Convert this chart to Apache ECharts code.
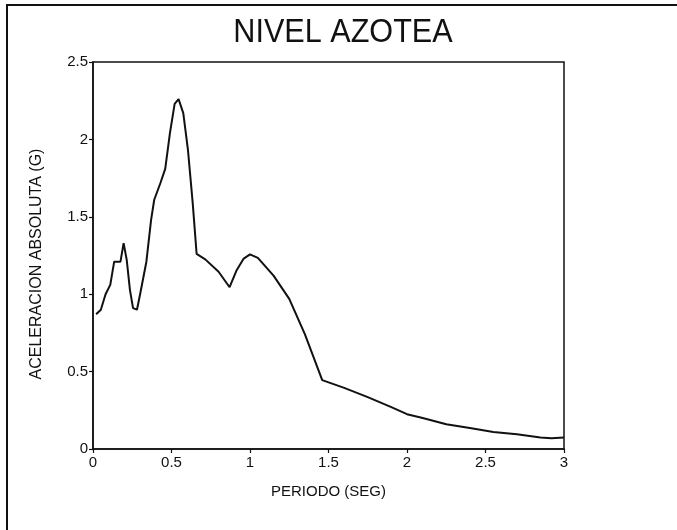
<!DOCTYPE html>
<html>
<head>
<meta charset="utf-8">
<script src="https://cdn.jsdelivr.net/npm/echarts@6/dist/echarts.min.js"></script>
<style>
  html, body { margin: 0; padding: 0; background: #fff; }
  #chart { width: 677px; height: 530px; }
</style>
</head>
<body>
<div id="chart"></div>
<script>
// Spectral response, roof level: period (s) vs absolute acceleration (g)
var periodo = [0.02, 0.05, 0.08, 0.11, 0.135, 0.175, 0.195, 0.215, 0.235, 0.255, 0.28, 0.30, 0.34, 0.37, 0.39, 0.43, 0.46, 0.49, 0.52, 0.545, 0.575, 0.605, 0.635, 0.66, 0.715, 0.80, 0.87, 0.915, 0.96, 1.00, 1.05, 1.15, 1.25, 1.35, 1.46, 1.60, 1.75, 1.90, 2.00, 2.10, 2.25, 2.40, 2.55, 2.70, 2.85, 2.92, 3.00];
var aceleracion = [0.87, 0.90, 1.00, 1.06, 1.21, 1.21, 1.33, 1.22, 1.03, 0.91, 0.90, 1.00, 1.21, 1.48, 1.61, 1.72, 1.81, 2.04, 2.23, 2.26, 2.17, 1.93, 1.59, 1.26, 1.225, 1.145, 1.045, 1.155, 1.23, 1.257, 1.235, 1.12, 0.97, 0.74, 0.445, 0.395, 0.335, 0.27, 0.225, 0.20, 0.16, 0.135, 0.11, 0.095, 0.075, 0.07, 0.075];
var xTicks = [0, 0.5, 1, 1.5, 2, 2.5, 3];
var yTicks = [0, 0.5, 1, 1.5, 2, 2.5];

var titulo = 'NIVEL AZOTEA';
var ejeX = 'PERIODO (SEG)';
var ejeY = 'ACELERACION ABSOLUTA (G)';

var puntos = periodo.map(function (p, i) { return [p, aceleracion[i]]; });
var fuente = 'Liberation Sans, Arial, Helvetica, sans-serif';

var chart = echarts.init(document.getElementById('chart'), null, { renderer: 'canvas' });
chart.setOption({
  backgroundColor: '#ffffff',
  animation: false,
  graphic: [
    {
      // outer frame of the sheet
      type: 'rect',
      shape: { x: 7, y: 5, width: 700, height: 560 },
      style: { fill: 'none', stroke: '#111', lineWidth: 2 },
      z: 0
    },
    {
      type: 'text',
      x: 343, y: 33,
      scaleX: 0.9,
      style: {
        text: titulo,
        font: '34px ' + fuente,
        fill: '#111',
        textAlign: 'center',
        textVerticalAlign: 'middle'
      }
    },
    {
      // vertical axis title
      type: 'text',
      x: 37, y: 264,
      rotation: Math.PI / 2,
      style: {
        text: ejeY,
        font: '16px ' + fuente,
        fill: '#111',
        textAlign: 'center',
        textVerticalAlign: 'middle'
      }
    }
  ],
  grid: {
    left: 93, right: 113, top: 62, bottom: 81,
    show: true, borderColor: '#111', borderWidth: 1.5, backgroundColor: 'transparent'
  },
  xAxis: {
    type: 'value', min: 0, max: 3, interval: 0.5,
    name: ejeX, nameLocation: 'middle', nameGap: 35,
    nameTextStyle: { color: '#111', fontSize: 15, fontFamily: fuente },
    axisLine: { show: true, onZero: false, lineStyle: { color: '#111', width: 1.5 } },
    axisTick: { show: true, length: 4, lineStyle: { color: '#111', width: 1.2 } },
    axisLabel: {
      color: '#111', fontSize: 15, fontFamily: fuente, margin: 6,
      formatter: function (v) { return xTicks.indexOf(v) >= 0 ? String(v) : ''; }
    },
    splitLine: { show: false }
  },
  yAxis: {
    type: 'value', min: 0, max: 2.5, interval: 0.5,
    axisLine: { show: true, onZero: false, lineStyle: { color: '#111', width: 1.5 } },
    axisTick: { show: true, length: 4, lineStyle: { color: '#111', width: 1.2 } },
    axisLabel: {
      color: '#111', fontSize: 15, fontFamily: fuente, margin: 5,
      formatter: function (v) { return yTicks.indexOf(v) >= 0 ? String(v) : ''; }
    },
    splitLine: { show: false }
  },
  series: [{
    type: 'line',
    data: puntos,
    showSymbol: false,
    smooth: false,
    lineStyle: { color: '#111', width: 2 },
    z: 5
  }]
});
</script>
</body>
</html>
